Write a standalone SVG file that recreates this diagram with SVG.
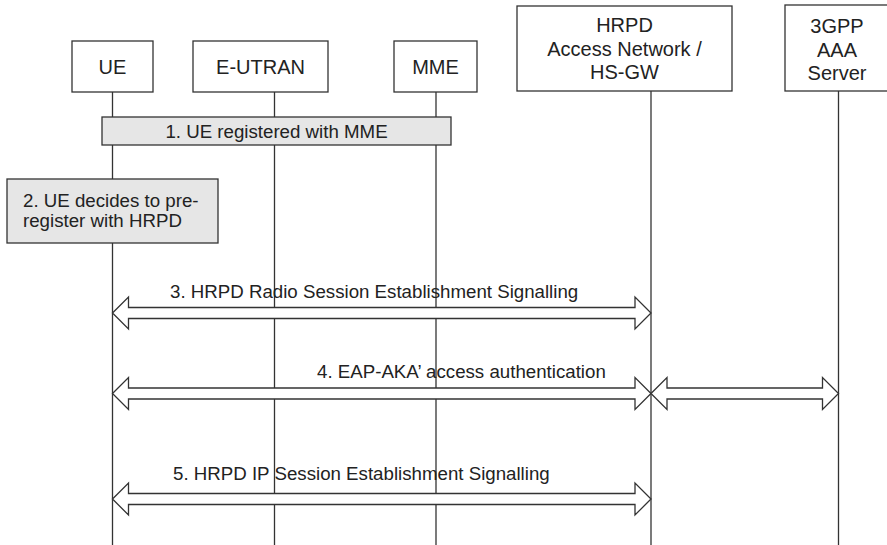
<svg xmlns="http://www.w3.org/2000/svg" width="887" height="545" viewBox="0 0 887 545">
<style>
.box{fill:#fff;stroke:#333;stroke-width:1.3}
.note{fill:#e6e6e6;stroke:#333;stroke-width:1.3}
.life{stroke:#333;stroke-width:1.3;fill:none}
.arr{fill:#fff;stroke:#333;stroke-width:1.3;stroke-linejoin:miter}
.lbl{font-family:"Liberation Sans",Arial,sans-serif;font-size:20px;fill:#222;text-anchor:middle}
.msg{font-family:"Liberation Sans",Arial,sans-serif;font-size:18.7px;fill:#222}
</style>
<rect width="887" height="545" fill="#fff"/>
<g id="lifelines">
<line class="life" x1="112.5" y1="92" x2="112.5" y2="545"/>
<line class="life" x1="274.5" y1="92" x2="274.5" y2="545"/>
<line class="life" x1="436" y1="92" x2="436" y2="545"/>
<line class="life" x1="651" y1="91" x2="651" y2="545"/>
<line class="life" x1="838.5" y1="91" x2="838.5" y2="545"/>
</g>
<g id="ue">
<rect class="box" x="72" y="41" width="81" height="51"/>
<text class="lbl" x="112.5" y="74">UE</text>
</g>
<g id="eutran">
<rect class="box" x="193" y="41" width="135" height="51"/>
<text class="lbl" x="260.5" y="74">E-UTRAN</text>
</g>
<g id="mme">
<rect class="box" x="394" y="41" width="83" height="51"/>
<text class="lbl" x="435.5" y="74">MME</text>
</g>
<g id="hrpd">
<rect class="box" x="517" y="6" width="215" height="85"/>
<text class="lbl" x="624.5" y="32">HRPD</text>
<text class="lbl" x="624.5" y="55.5">Access Network /</text>
<text class="lbl" x="624.5" y="79">HS-GW</text>
</g>
<g id="aaa">
<rect class="box" x="785" y="5" width="106" height="86"/>
<text class="lbl" x="837" y="33">3GPP</text>
<text class="lbl" x="837" y="57">AAA</text>
<text class="lbl" x="837" y="80">Server</text>
</g>
<g id="step1">
<rect class="note" x="102" y="117" width="349" height="28"/>
<text class="msg" x="276.5" y="138" text-anchor="middle">1. UE registered with MME</text>
</g>
<g id="step2">
<rect class="note" x="7" y="179" width="211" height="64"/>
<text class="msg" x="23" y="207">2. UE decides to pre-</text>
<text class="msg" x="23" y="227">register with HRPD</text>
</g>
<g id="connectors">
<polygon class="arr" points="112.5,313 128.5,297 128.5,307.5 635,307.5 635,297 651,313 635,329 635,318.5 128.5,318.5 128.5,329"/>
<text class="msg" x="170" y="298">3. HRPD Radio Session Establishment Signalling</text>
<polygon class="arr" points="112.5,393.5 128.5,377.5 128.5,388 635,388 635,377.5 651,393.5 635,409.5 635,399 128.5,399 128.5,409.5"/>
<polygon class="arr" points="651,393.5 667,377.5 667,388 822.5,388 822.5,377.5 838.5,393.5 822.5,409.5 822.5,399 667,399 667,409.5"/>
<text class="msg" x="317" y="378">4. EAP-AKA’ access authentication</text>
<polygon class="arr" points="112.5,499 128.5,483 128.5,493.5 635,493.5 635,483 651,499 635,515 635,504.5 128.5,504.5 128.5,515"/>
<text class="msg" x="173" y="480">5. HRPD IP Session Establishment Signalling</text>
</g>
</svg>
